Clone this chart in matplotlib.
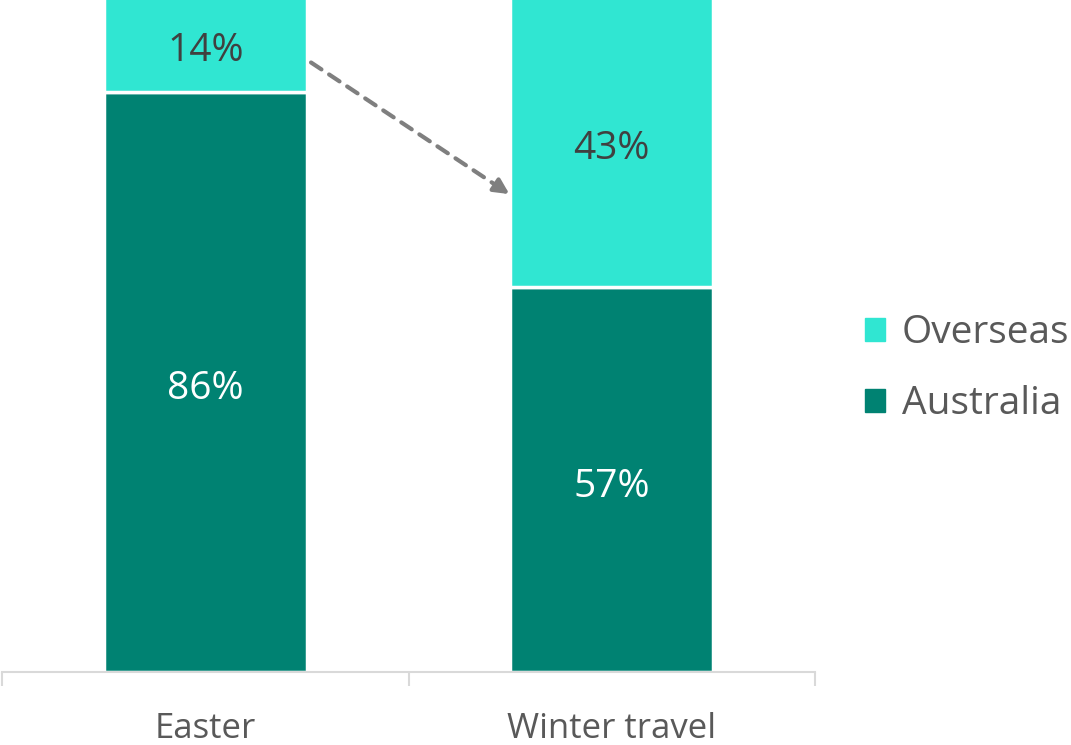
import numpy as np
import matplotlib.pyplot as plt
from matplotlib.patches import Patch

plt.rcParams['font.family'] = ['Open Sans', 'DejaVu Sans']

categories = ['Easter', 'Winter travel']
australia = [86, 57]
overseas = [14, 43]

c_aus = '#008272'
c_ovs = '#30e6d2'

fig = plt.figure(figsize=(10.71, 7.45), dpi=100)
ax = fig.add_axes([0.002, 0.098, 0.759, 0.906])

x = np.arange(len(categories))
w = 0.5
b1 = ax.bar(x, australia, w, color=c_aus, edgecolor='white', linewidth=2.5)
b2 = ax.bar(x, overseas, w, bottom=australia, color=c_ovs, edgecolor='white', linewidth=2.5)

for i in range(len(x)):
    ax.annotate(f'{australia[i]}%', (x[i], australia[i] / 2), xytext=(0, -5),
                textcoords='offset points', ha='center', va='center', fontsize=28, color='white')
    ax.annotate(f'{overseas[i]}%', (x[i], australia[i] + overseas[i] / 2), xytext=(0, -5),
                textcoords='offset points', ha='center', va='center', fontsize=28, color='#404040')

# dashed arrow between the overseas shares: dashed shaft + solid head
p0 = np.array([0.26, 90.3])
p1 = np.array([0.748, 70.8])
ax.annotate('', xy=p1, xytext=p0,
            arrowprops=dict(arrowstyle='-', color='#7f7f7f', lw=3,
                            linestyle=(0, (3, 2.2)), shrinkA=0, shrinkB=9))
ax.annotate('', xy=p1, xytext=p1 - (p1 - p0) * 0.06,
            arrowprops=dict(arrowstyle='-|>,head_length=0.9,head_width=0.45', color='#7f7f7f',
                            lw=3, shrinkA=0, shrinkB=0))

ax.set_xlim(-0.5, 1.5)
ax.set_ylim(0, 100)
for s in ['top', 'right', 'left']:
    ax.spines[s].set_visible(False)
ax.spines['bottom'].set_color('#d9d9d9')
ax.spines['bottom'].set_linewidth(1.5)
ax.set_yticks([])
ax.set_xticks(x)
ax.set_xticklabels(categories, fontsize=25, color='#595959')
ax.tick_params(axis='x', which='major', length=0, pad=29)
ax.set_xticks([-0.5, 0.5, 1.5], minor=True)
ax.tick_params(axis='x', which='minor', length=10, width=1.5, color='#d9d9d9')

handles = [Patch(color=c_ovs), Patch(color=c_aus)]
fig.legend(handles, ['Overseas', 'Australia'], loc='center left', bbox_to_anchor=(0.775, 0.505),
           frameon=False, fontsize=28, labelcolor='#595959', handlelength=0.52, handleheight=0.52,
           handletextpad=0.42, labelspacing=0.86)

fig.savefig('out.png', dpi=100)
